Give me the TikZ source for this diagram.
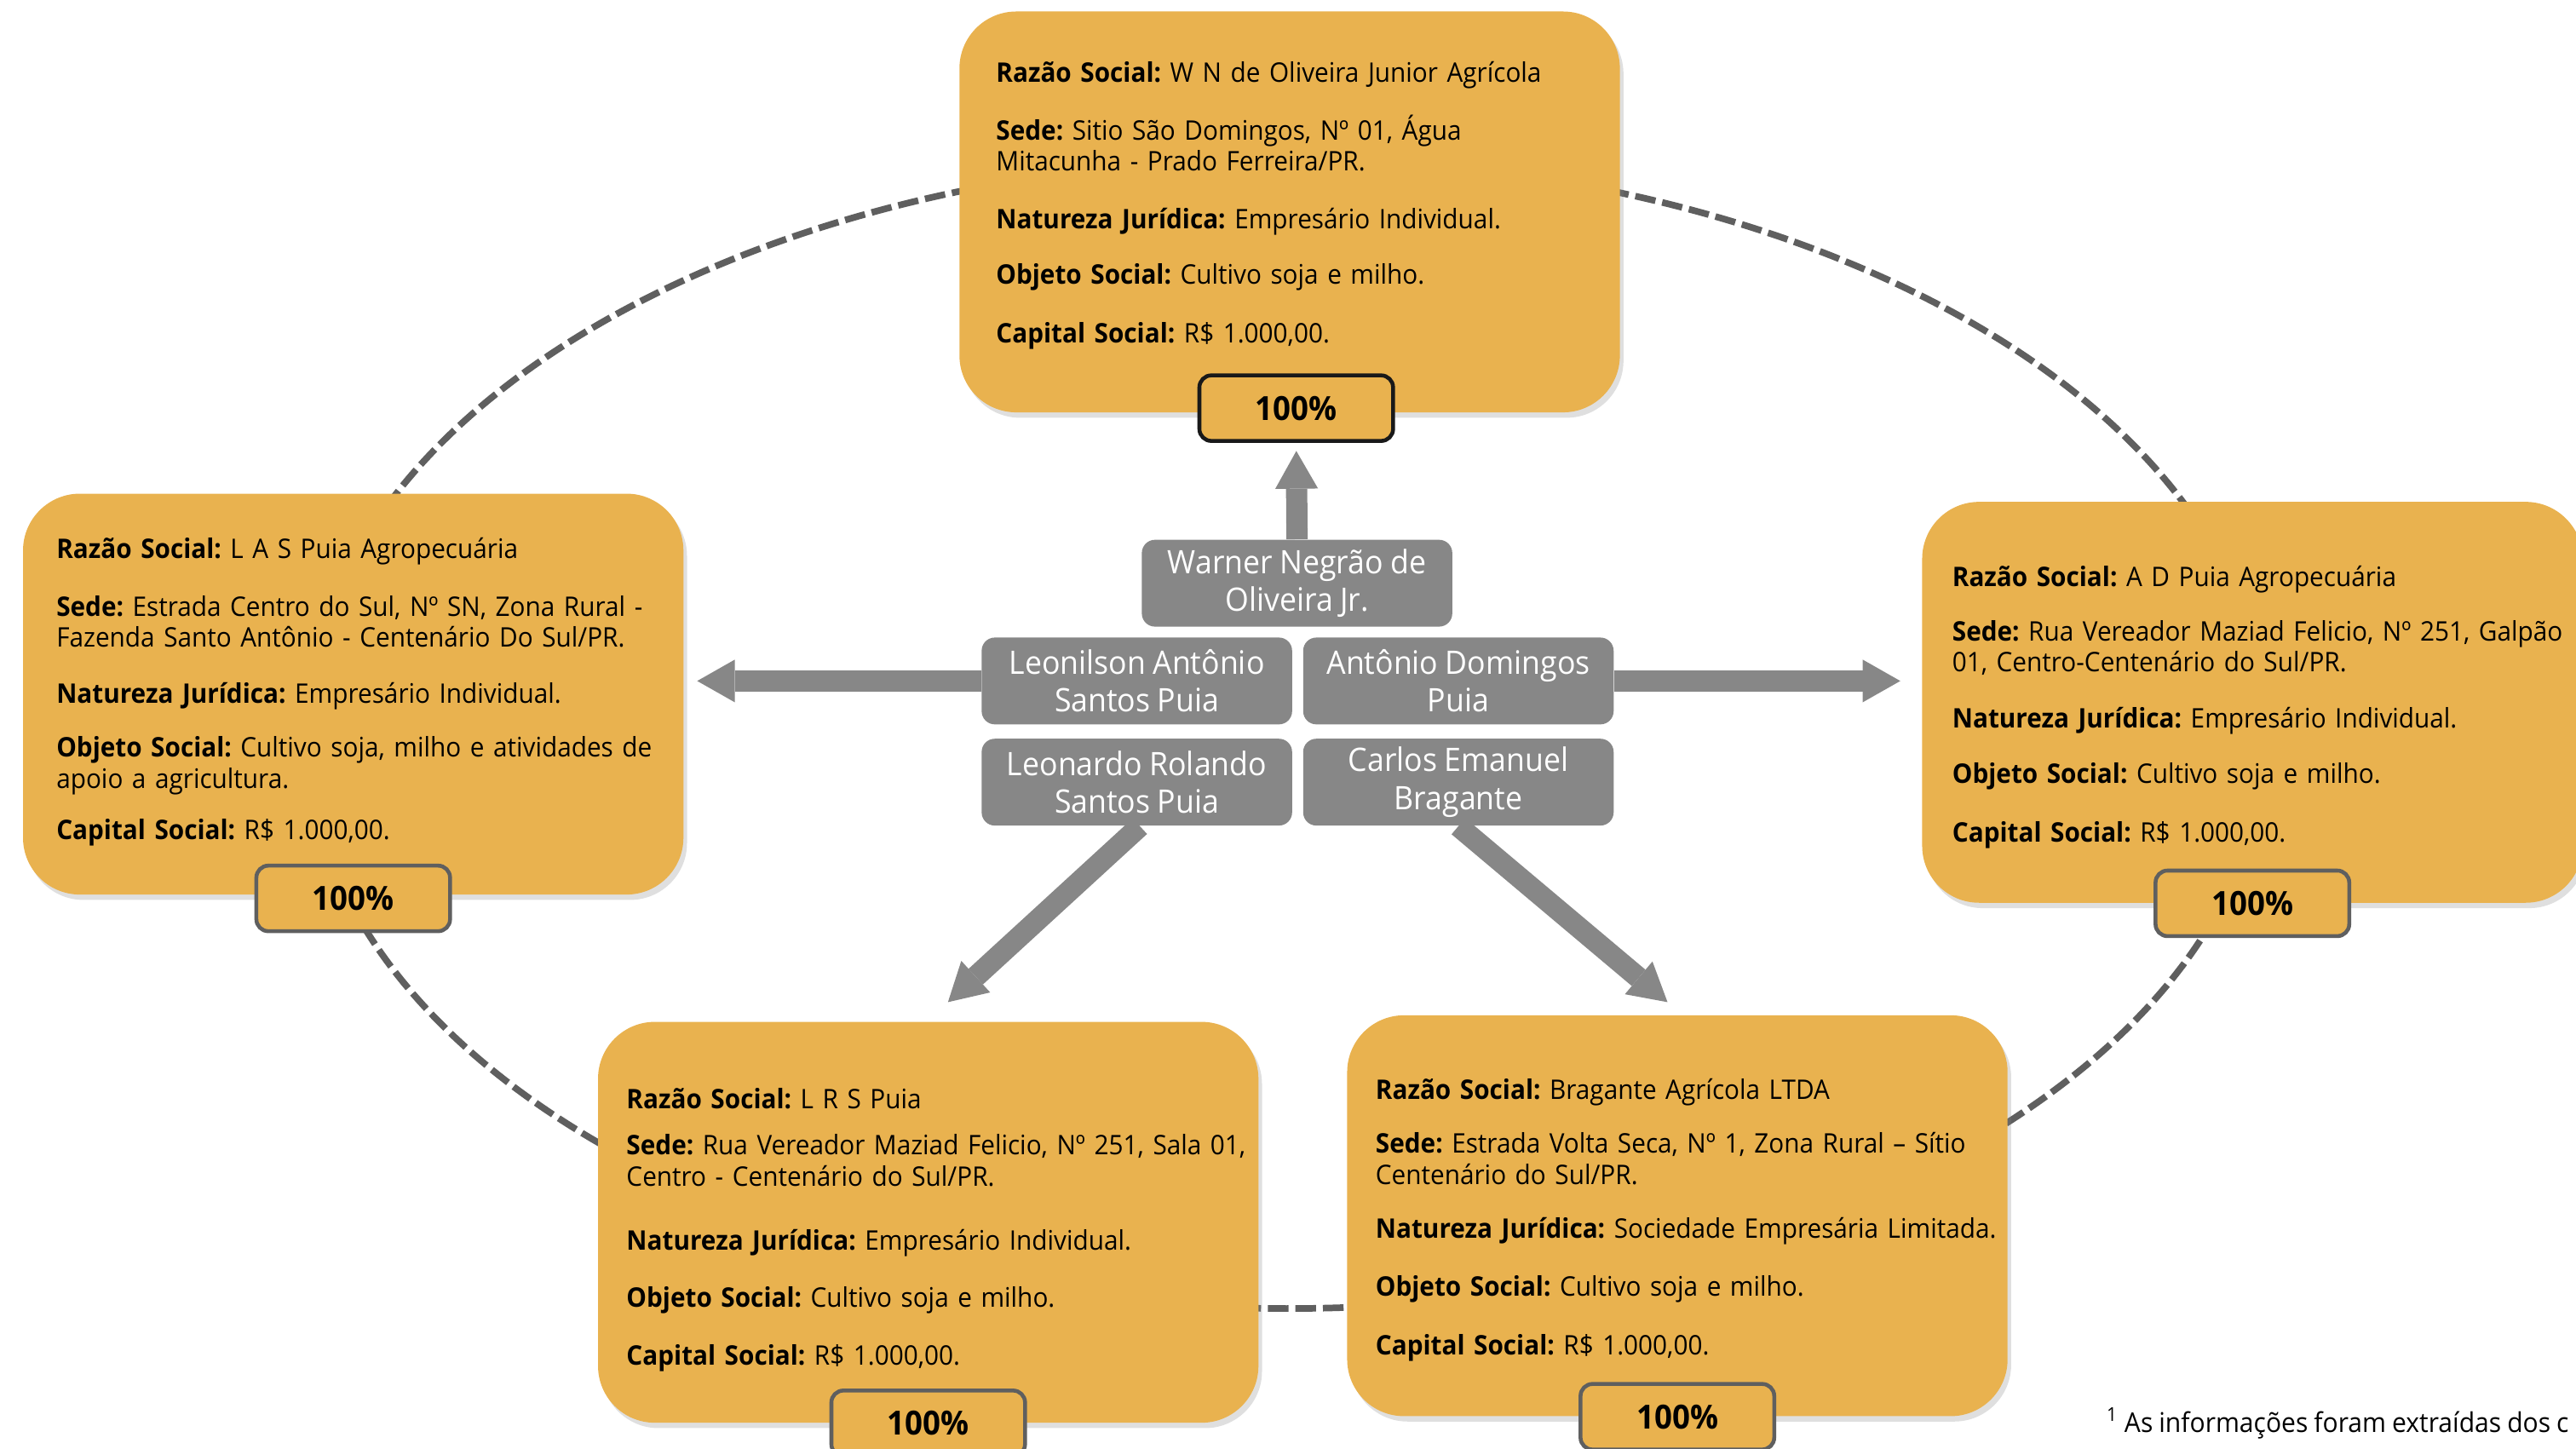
\documentclass[tikz,border=0pt]{standalone}
\usepackage{fontspec}
\setmainfont{Open Sans}[FakeStretch=0.94, WordSpace=0.9]
\usetikzlibrary{positioning,arrows.meta,shadows}

\definecolor{ouro}{HTML}{E9B24F}
\definecolor{cinza}{HTML}{878787}
\definecolor{tracejado}{HTML}{5F5F5F}

\tikzset{
  empresa/.style={rounded corners=19pt, fill=ouro, minimum width=220.6pt, minimum height=133.9pt,
    drop shadow={shadow xshift=1.2pt, shadow yshift=-1.8pt, opacity=.25}},
  dados/.style={anchor=base west, align=left, inner sep=0pt, text width=250pt,
    font=\fontsize{9}{10.4}\selectfont\frenchspacing},
  pct/.style={draw=tracejado, line width=1.3pt, fill=ouro, rounded corners=4pt,
    minimum width=64.7pt, minimum height=21.9pt, font=\fontsize{11.1}{12}\selectfont\bfseries},
  socio/.style={fill=cinza, rounded corners=4.4pt, minimum width=103.7pt, minimum height=29pt,
    text=white, align=center, inner sep=1pt, font=\fontsize{10.8}{12.6}\selectfont},
  seta/.style={draw=cinza, line width=7.1pt, -{Triangle[width=14.3pt, length=12.6pt, line width=0pt]}},
}

\begin{document}
\begin{tikzpicture}[x=0.019286cm, y=-0.019286cm]
  \clip (0,0) rectangle (1568,882);

  % ligacao tracejada entre as empresas
  \draw[tracejado, line width=2.2pt, dash pattern=on 6.9pt off 2.3pt]
    (783,446.5) ellipse [x radius=596, y radius=350];

  % empresas
  \node[empresa] (wn) at (785,129) {};
  \node[empresa] (las) at (215,422.5) {};
  \node[empresa] (ads) at (1371,427.5) {};
  \node[empresa] (lrs) at (565,744) {};
  \node[empresa] (bag) at (1021,740) {};

  \node[dados] (wntxt) at (606,50) {\textbf{Razão Social:} W N de Oliveira Junior Agrícola\\[7.7pt]
    \textbf{Sede:} Sitio São Domingos, Nº 01, Água\\
    Mitacunha - Prado Ferreira/PR.\\[8.8pt]
    \textbf{Natureza Jurídica:} Empresário Individual.\\[8.2pt]
    \textbf{Objeto Social:} Cultivo soja e milho.\\[9.3pt]
    \textbf{Capital Social:} R\$ 1.000,00.};

  \node[dados] (lastxt) at (34,340) {\textbf{Razão Social:} L A S Puia Agropecuária\\[8.8pt]
    \textbf{Sede:} Estrada Centro do Sul, Nº SN, Zona Rural -\\
    Fazenda Santo Antônio - Centenário Do Sul/PR.\\[8.2pt]
    \textbf{Natureza Jurídica:} Empresário Individual.\\[7.7pt]
    \textbf{Objeto Social:} Cultivo soja, milho e atividades de\\
    apoio a agricultura.\\[6.6pt]
    \textbf{Capital Social:} R\$ 1.000,00.};

  \node[dados] (adstxt) at (1188,357) {\textbf{Razão Social:} A D Puia Agropecuária\\[7.7pt]
    \textbf{Sede:} Rua Vereador Maziad Felicio, Nº 251, Galpão\\
    01, Centro-Centenário do Sul/PR.\\[8.2pt]
    \textbf{Natureza Jurídica:} Empresário Individual.\\[8.2pt]
    \textbf{Objeto Social:} Cultivo soja e milho.\\[9.3pt]
    \textbf{Capital Social:} R\$ 1.000,00.};

  \node[dados] (lrstxt) at (381,675) {\textbf{Razão Social:} L R S Puia\\[4.9pt]
    \textbf{Sede:} Rua Vereador Maziad Felicio, Nº 251, Sala 01,\\
    Centro - Centenário do Sul/PR.\\[11pt]
    \textbf{Natureza Jurídica:} Empresário Individual.\\[8.8pt]
    \textbf{Objeto Social:} Cultivo soja e milho.\\[8.8pt]
    \textbf{Capital Social:} R\$ 1.000,00.};

  \node[dados] (bagtxt) at (837,669) {\textbf{Razão Social:} Bragante Agrícola LTDA\\[7.7pt]
    \textbf{Sede:} Estrada Volta Seca, Nº 1, Zona Rural – Sítio\\
    Centenário do Sul/PR.\\[7.7pt]
    \textbf{Natureza Jurídica:} Sociedade Empresária Limitada.\\[8.8pt]
    \textbf{Objeto Social:} Cultivo soja e milho.\\[9.3pt]
    \textbf{Capital Social:} R\$ 1.000,00.};

  % participacao
  \node[pct, draw=black!90] (wnpct) at ([xshift=2.2pt, yshift=1.6pt]wn.south) {100\%};
  \node[pct] (laspct) at ([yshift=-1.1pt]las.south) {100\%};
  \node[pct] (adspct) at (ads.south) {100\%};
  \node[pct] (lrspct) at (lrs.south) {100\%};
  \node[pct] (bagpct) at (bag.south) {100\%};

  % socios
  \node[socio] (warner) at (789.5,355) {Warner Negrão de\\Oliveira Jr.};
  \node[socio] (leonilson) at (692,414.5) {Leonilson Antônio\\Santos Puia};
  \node[socio, right=3.3pt of leonilson] (antonio) {Antônio Domingos\\Puia};
  \node[socio, below=4.4pt of leonilson] (leonardo) {Leonardo Rolando\\Santos Puia};
  \node[socio, right=3.3pt of leonardo] (carlos) {Carlos Emanuel\\Bragante};

  \coordinate (lrstip) at (577,610);
  \coordinate (bagtip) at (1015,610);

  % setas
  \draw[seta, shorten >=2.7pt] (warner.north) -- (wnpct.south);
  \draw[seta, shorten >=4.4pt] (leonilson.west) -- (leonilson.west -| las.east);
  \draw[seta, shorten >=7.1pt] (antonio.east) -- (antonio.east -| ads.west);
  \draw[seta] ([xshift=1pt]leonardo.south) -- (lrstip);
  \draw[seta] (carlos.south) -- (bagtip);

  \node[anchor=base west, inner sep=0pt, font=\fontsize{9.1}{10}\selectfont] (nota) at (1282,872)
    {\textsuperscript{1} As informações foram extraídas dos c};
\end{tikzpicture}
\end{document}
